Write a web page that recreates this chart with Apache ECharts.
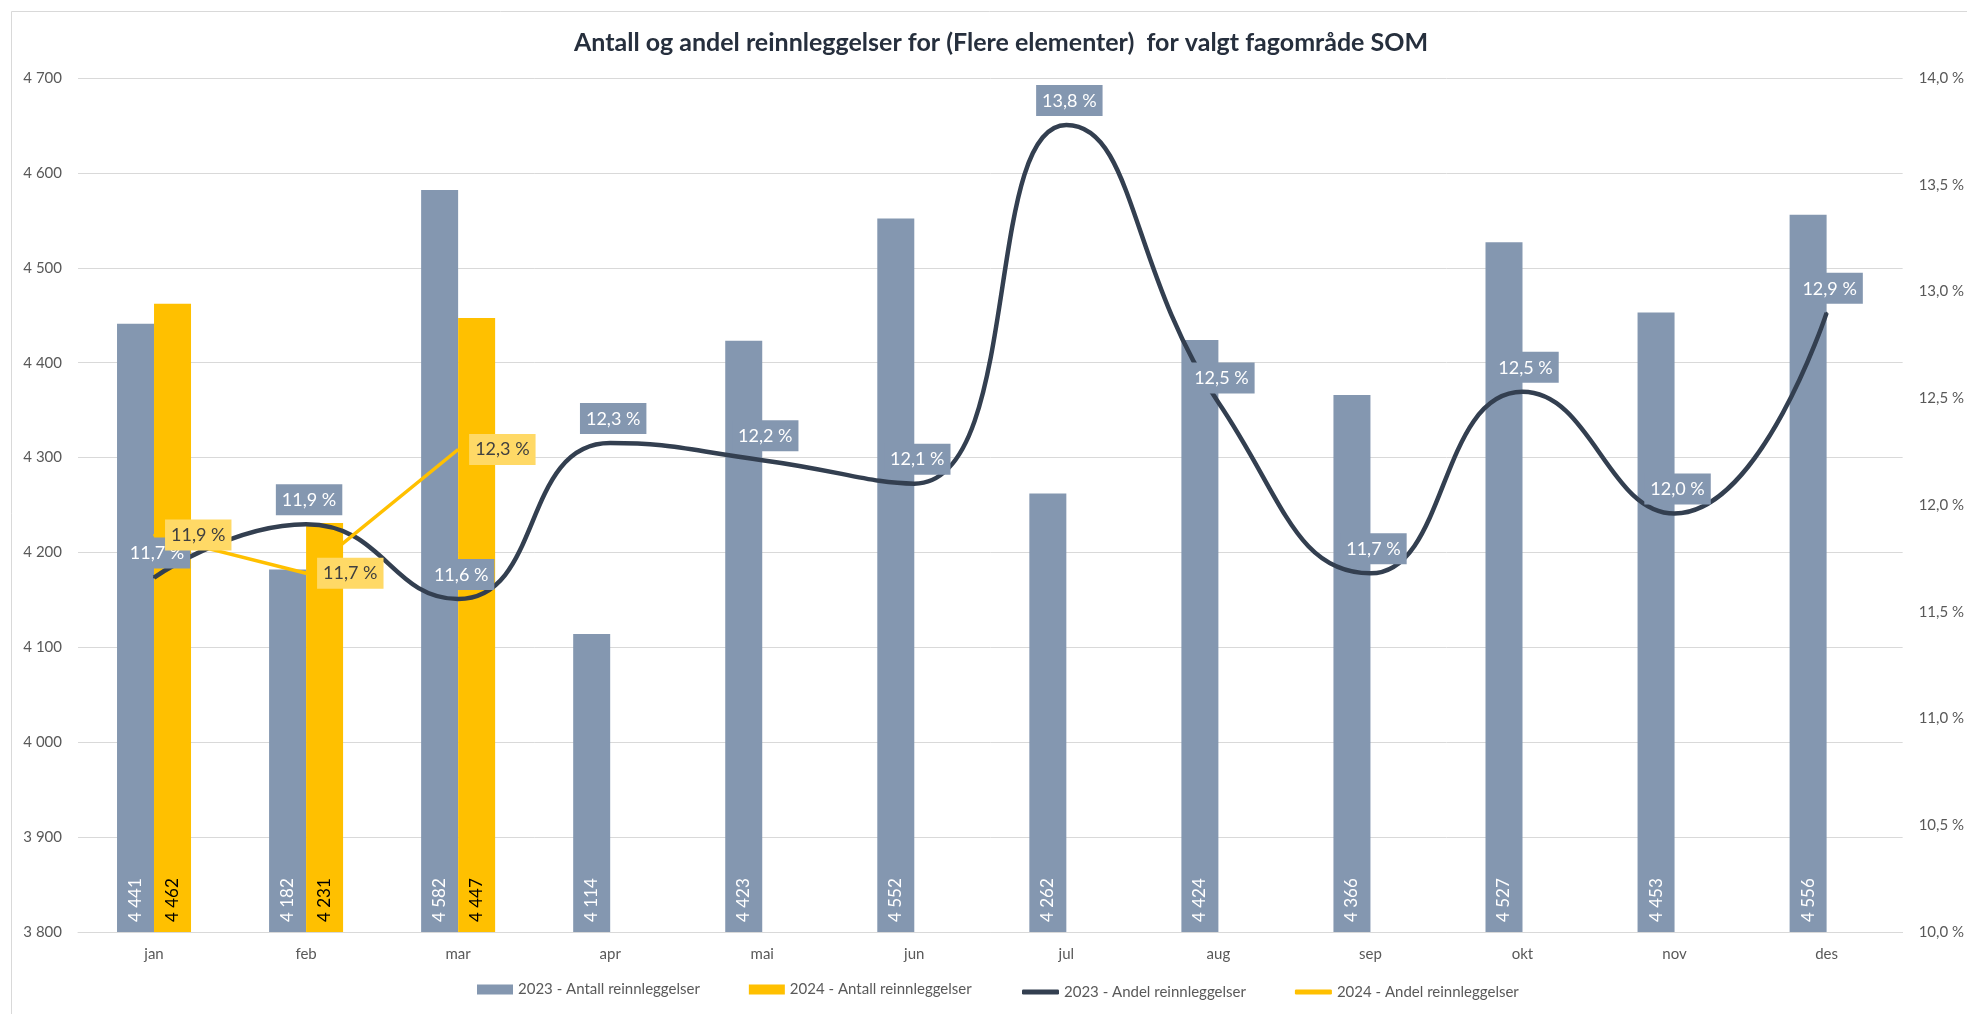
<!DOCTYPE html>
<html>
<head>
<meta charset="utf-8">
<script src="https://cdn.jsdelivr.net/npm/echarts@6/dist/echarts.min.js"></script>
<style>html,body{margin:0;padding:0;background:#fff}#c{width:1967px;height:1014px}</style>
</head>
<body>
<div id="c"></div>
<script>
const months = ['jan','feb','mar','apr','mai','jun','jul','aug','sep','okt','nov','des'];
const antall2023 = [4441, 4182, 4582, 4114, 4423, 4552, 4262, 4424, 4366, 4527, 4453, 4556];
const antall2024 = [4462, 4231, 4447, null, null, null, null, null, null, null, null, null];
const andel2023 = [11.66, 11.91, 11.56, 12.29, 12.21, 12.1, 13.78, 12.48, 11.68, 12.53, 11.96, 12.9];
const andel2024 = [11.86, 11.68, 12.26, null, null, null, null, null, null, null, null, null];
const seriesNames = ['2023 - Antall reinnleggelser','2024 - Antall reinnleggelser','2023 - Andel reinnleggelser','2024 - Andel reinnleggelser'];
const titleText = 'Antall og andel reinnleggelser for (Flere elementer)  for valgt fagområde SOM';

const FONT = 'Lato';
const thousands = v => String(v).replace(/\B(?=(\d{3})+(?!\d))/g, ' ');
const pct = v => (Math.round(v * 10) / 10).toFixed(1).replace('.', ',') + ' %';
const legendText = { fontFamily: FONT, fontSize: 15, color: '#595959' };

const chart = echarts.init(document.getElementById('c'));
chart.setOption({
  animation: false,
  backgroundColor: '#fff',
  textStyle: { fontFamily: FONT },
  graphic: [{
    type: 'rect', shape: { x: 11.5, y: 11.5, width: 2100, height: 1100 },
    style: { fill: 'none', stroke: '#d9d9d9', lineWidth: 1 }, silent: true, z: -1
  }],
  title: {
    text: titleText, left: 569, top: 25,
    textStyle: { fontFamily: FONT, fontSize: 25, fontWeight: 'bold', color: '#262f3d' }
  },
  legend: [{
    left: 472, top: 977, itemWidth: 36, itemHeight: 10, itemGap: 49,
    textStyle: legendText,
    data: [
      { name: seriesNames[0], icon: 'rect' },
      { name: seriesNames[1], icon: 'rect' }
    ]
  }, {
    left: 1017, top: 979.5, itemWidth: 37, itemHeight: 5, itemGap: 49,
    textStyle: legendText,
    data: [
      { name: seriesNames[2], icon: 'roundRect' },
      { name: seriesNames[3], icon: 'roundRect' }
    ]
  }],
  grid: { left: 78, right: 57, top: 78, bottom: 82, containLabel: false },
  xAxis: {
    type: 'category', data: months,
    axisTick: { show: false },
    axisLine: { lineStyle: { color: '#d9d9d9' } },
    axisLabel: { color: '#595959', fontSize: 15, margin: 15, fontFamily: FONT }
  },
  yAxis: [{
    type: 'value', min: 3800, max: 4700, interval: 100,
    axisLine: { show: false }, axisTick: { show: false },
    splitLine: { lineStyle: { color: '#d9d9d9' } },
    axisLabel: { color: '#595959', fontSize: 15, margin: 16, formatter: thousands, fontFamily: FONT }
  }, {
    type: 'value', min: 10, max: 14, interval: 0.5,
    axisLine: { show: false }, axisTick: { show: false },
    splitLine: { show: false },
    axisLabel: { color: '#595959', fontSize: 15, margin: 16, formatter: pct, fontFamily: FONT }
  }],
  series: [{
    name: seriesNames[0], type: 'bar', data: antall2023,
    barWidth: 37, barGap: '0%',
    itemStyle: { color: '#8497b0' },
    label: {
      show: true, position: 'insideBottom', rotate: 90, align: 'left', verticalAlign: 'middle',
      distance: 10, color: '#ffffff', fontSize: 17, fontFamily: FONT, formatter: p => thousands(p.value)
    }
  }, {
    name: seriesNames[1], type: 'bar', data: antall2024,
    barWidth: 37, barGap: '0%',
    itemStyle: { color: '#ffc000' },
    label: {
      show: true, position: 'insideBottom', rotate: 90, align: 'left', verticalAlign: 'middle',
      distance: 10, color: '#000000', fontSize: 17, fontFamily: FONT, formatter: p => thousands(p.value)
    }
  }, {
    name: seriesNames[2], type: 'line', yAxisIndex: 1, data: andel2023,
    smooth: 0.5, symbol: 'circle', symbolSize: 2, showSymbol: true,
    lineStyle: { color: '#333f50', width: 4.5 },
    itemStyle: { color: '#333f50' },
    label: {
      show: true, position: 'top', distance: 8, offset: [3, 0], formatter: p => pct(p.value),
      backgroundColor: '#8497b0', color: '#ffffff', padding: [7, 6, 6, 6],
      fontSize: 18, fontFamily: FONT
    }
  }, {
    name: seriesNames[3], type: 'line', yAxisIndex: 1, data: andel2024,
    symbol: 'circle', symbolSize: 2, showSymbol: true, connectNulls: false,
    lineStyle: { color: '#ffc000', width: 3.5 },
    itemStyle: { color: '#ffc000' },
    label: {
      show: true, position: 'right', distance: 10, formatter: p => pct(p.value),
      backgroundColor: '#ffd966', color: '#404040', padding: [7, 6, 6, 6],
      fontSize: 18, fontFamily: FONT
    }
  }]
});
</script>
</body>
</html>
